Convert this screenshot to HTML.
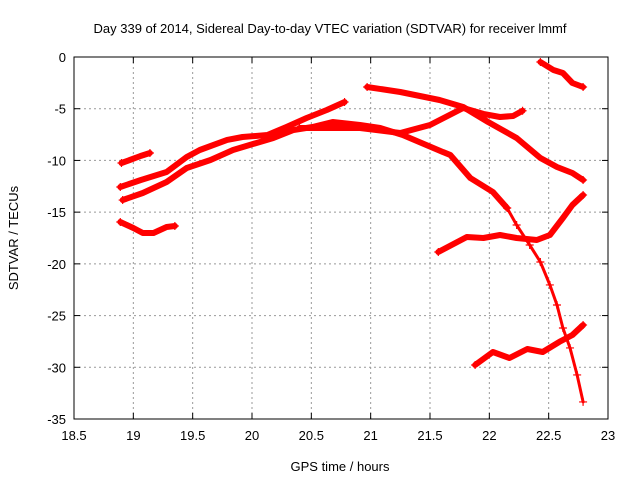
<!DOCTYPE html>
<html><head><meta charset="utf-8"><style>
body{margin:0;background:#fff}
svg{display:block;font-family:"Liberation Sans",sans-serif}
</style></head><body>
<svg id="chart" width="640" height="480">
<text x="330" y="33" font-size="13" text-anchor="middle">Day 339 of 2014, Sidereal Day-to-day VTEC variation (SDTVAR) for receiver lmmf</text>
<text x="340" y="471" font-size="13" text-anchor="middle">GPS time / hours</text>
<text transform="translate(18,238) rotate(-90)" font-size="13" text-anchor="middle">SDTVAR / TECUs</text>
<g id="grid"></g>
<g id="ticks"></g>
<g id="series"></g>
<rect x="74" y="57" width="534" height="362" fill="none" stroke="#000" stroke-width="1"/>
</svg>
<script>
const xTicks=[18.5,19,19.5,20,20.5,21,21.5,22,22.5,23];
const xTickLabels=["18.5","19","19.5","20","20.5","21","21.5","22","22.5","23"];
const yTicks=[0,-5,-10,-15,-20,-25,-30,-35];
const yTickLabels=["0","-5","-10","-15","-20","-25","-30","-35"];
const seriesA=[[18.90,-10.25],[18.97,-9.96],[19.06,-9.57],[19.14,-9.28]];
const seriesB=[[18.89,-12.57],[19.06,-11.9],[19.28,-11.12],[19.45,-9.67],[19.56,-8.99],[19.79,-8.02],[19.92,-7.73],[20.13,-7.54],[20.29,-6.77],[20.46,-5.90],[20.63,-5.12],[20.78,-4.35]];
const seriesB2=[[18.91,-13.83],[19.08,-13.15],[19.28,-12.09],[19.45,-10.73],[19.65,-9.96],[19.84,-8.99],[19.98,-8.51],[20.18,-7.83],[20.35,-7.06],[20.51,-6.77],[20.68,-6.28],[20.91,-6.57],[21.08,-6.86],[21.27,-7.54],[21.61,-9.19],[21.67,-9.47],[21.84,-11.70],[22.03,-13.05],[22.15,-14.60]];
const seriesE=[[22.15,-14.60],[22.23,-16.24],[22.34,-18.18],[22.43,-19.82],[22.51,-22.04],[22.57,-23.98],[22.62,-26.20],[22.68,-28.13],[22.74,-30.74],[22.79,-33.35]];
const seriesC=[[20.97,-2.90],[21.25,-3.38],[21.58,-4.16],[21.78,-4.83],[21.99,-6.28],[22.23,-7.83],[22.43,-9.77],[22.57,-10.64],[22.70,-11.22],[22.79,-11.89]];
const seriesD=[[20.40,-6.86],[20.91,-6.86],[21.25,-7.35],[21.50,-6.57],[21.78,-4.93],[21.95,-5.5],[22.09,-5.8],[22.20,-5.7],[22.28,-5.2]];
const seriesI=[[18.89,-15.95],[19.0,-16.53],[19.08,-17.02],[19.17,-17.02],[19.28,-16.44],[19.35,-16.34]];
const seriesF=[[21.57,-18.85],[21.81,-17.40],[21.95,-17.50],[22.09,-17.21],[22.23,-17.50],[22.40,-17.69],[22.51,-17.21],[22.62,-15.57],[22.70,-14.31],[22.79,-13.34]];
const seriesG=[[21.88,-29.78],[22.03,-28.52],[22.17,-29.10],[22.32,-28.23],[22.45,-28.52],[22.59,-27.55],[22.70,-26.88],[22.79,-25.91]];
const seriesH=[[22.43,-0.48],[22.54,-1.26],[22.62,-1.55],[22.70,-2.51],[22.79,-2.90]];

const NS="http://www.w3.org/2000/svg";
const X0=74,X1=608,Y0=57,Y1=419;
function sx(h){return X0+(h-18.5)/(23-18.5)*(X1-X0);}
function sy(v){return Y0+(0-v)/35*(Y1-Y0);}
function mk(tag,attrs,parent){const e=document.createElementNS(NS,tag);for(const k in attrs)e.setAttribute(k,attrs[k]);parent.appendChild(e);return e;}
const grid=document.getElementById('grid'),ticks=document.getElementById('ticks'),ser=document.getElementById('series');
xTicks.forEach((t,i)=>{const x=sx(t);
 if(i>0&&i<xTicks.length-1){const g=mk('line',{x1:x,x2:x,y1:Y0,y2:Y1,stroke:'#999','stroke-dasharray':'2,3'},grid);
 
 }
 mk('line',{x1:x,x2:x,y1:Y1,y2:Y1-6,stroke:'#000'},ticks);
 mk('line',{x1:x,x2:x,y1:Y0,y2:Y0+6,stroke:'#000'},ticks);
 const tx=mk('text',{x:x,y:Y1+21,'font-size':13,'text-anchor':'middle'},ticks);tx.textContent=xTickLabels[i];
 
 
});
yTicks.forEach((t,i)=>{const y=sy(t);
 if(i>0&&i<yTicks.length-1){const g=mk('line',{x1:X0,x2:X1,y1:y,y2:y,stroke:'#999','stroke-dasharray':'2,3'},grid);
 
 }
 mk('line',{x1:X0,x2:X0+6,y1:y,y2:y,stroke:'#000'},ticks);
 mk('line',{x1:X1,x2:X1-6,y1:y,y2:y,stroke:'#000'},ticks);
 const tx=mk('text',{x:X0-8,y:y+5,'font-size':13,'text-anchor':'end'},ticks);tx.textContent=yTickLabels[i];
 
 
});
function draw(data,name,w,crossAll){
 const d=data.map((p,i)=>(i?'L':'M')+sx(p[0]).toFixed(1)+','+sy(p[1]).toFixed(1)).join('');
 const p=mk('path',{d:d,fill:'none',stroke:'#f00','stroke-width':w,'stroke-linejoin':'round','stroke-linecap':'round'},ser);
 
 
 const pts=crossAll?data:[data[0],data[data.length-1]];
 pts.forEach(q=>{const x=sx(q[0]),y=sy(q[1]);
  mk('path',{d:`M${x-4},${y}H${x+4}M${x},${y-4}V${y+4}`,stroke:'#f00','stroke-width':1.2},ser);});
}
draw(seriesA,'series-a',6,false);
draw(seriesB,'series-b',6,false);
draw(seriesB2,'series-b2',6,false);
draw(seriesE,'series-e-tail',3,true);
draw(seriesC,'series-c',6,false);
draw(seriesD,'series-d',6,false);
draw(seriesI,'series-i',6,false);
draw(seriesF,'series-f',6,false);
draw(seriesG,'series-g',6,false);
draw(seriesH,'series-h',6,false);
</script>
</body></html>
